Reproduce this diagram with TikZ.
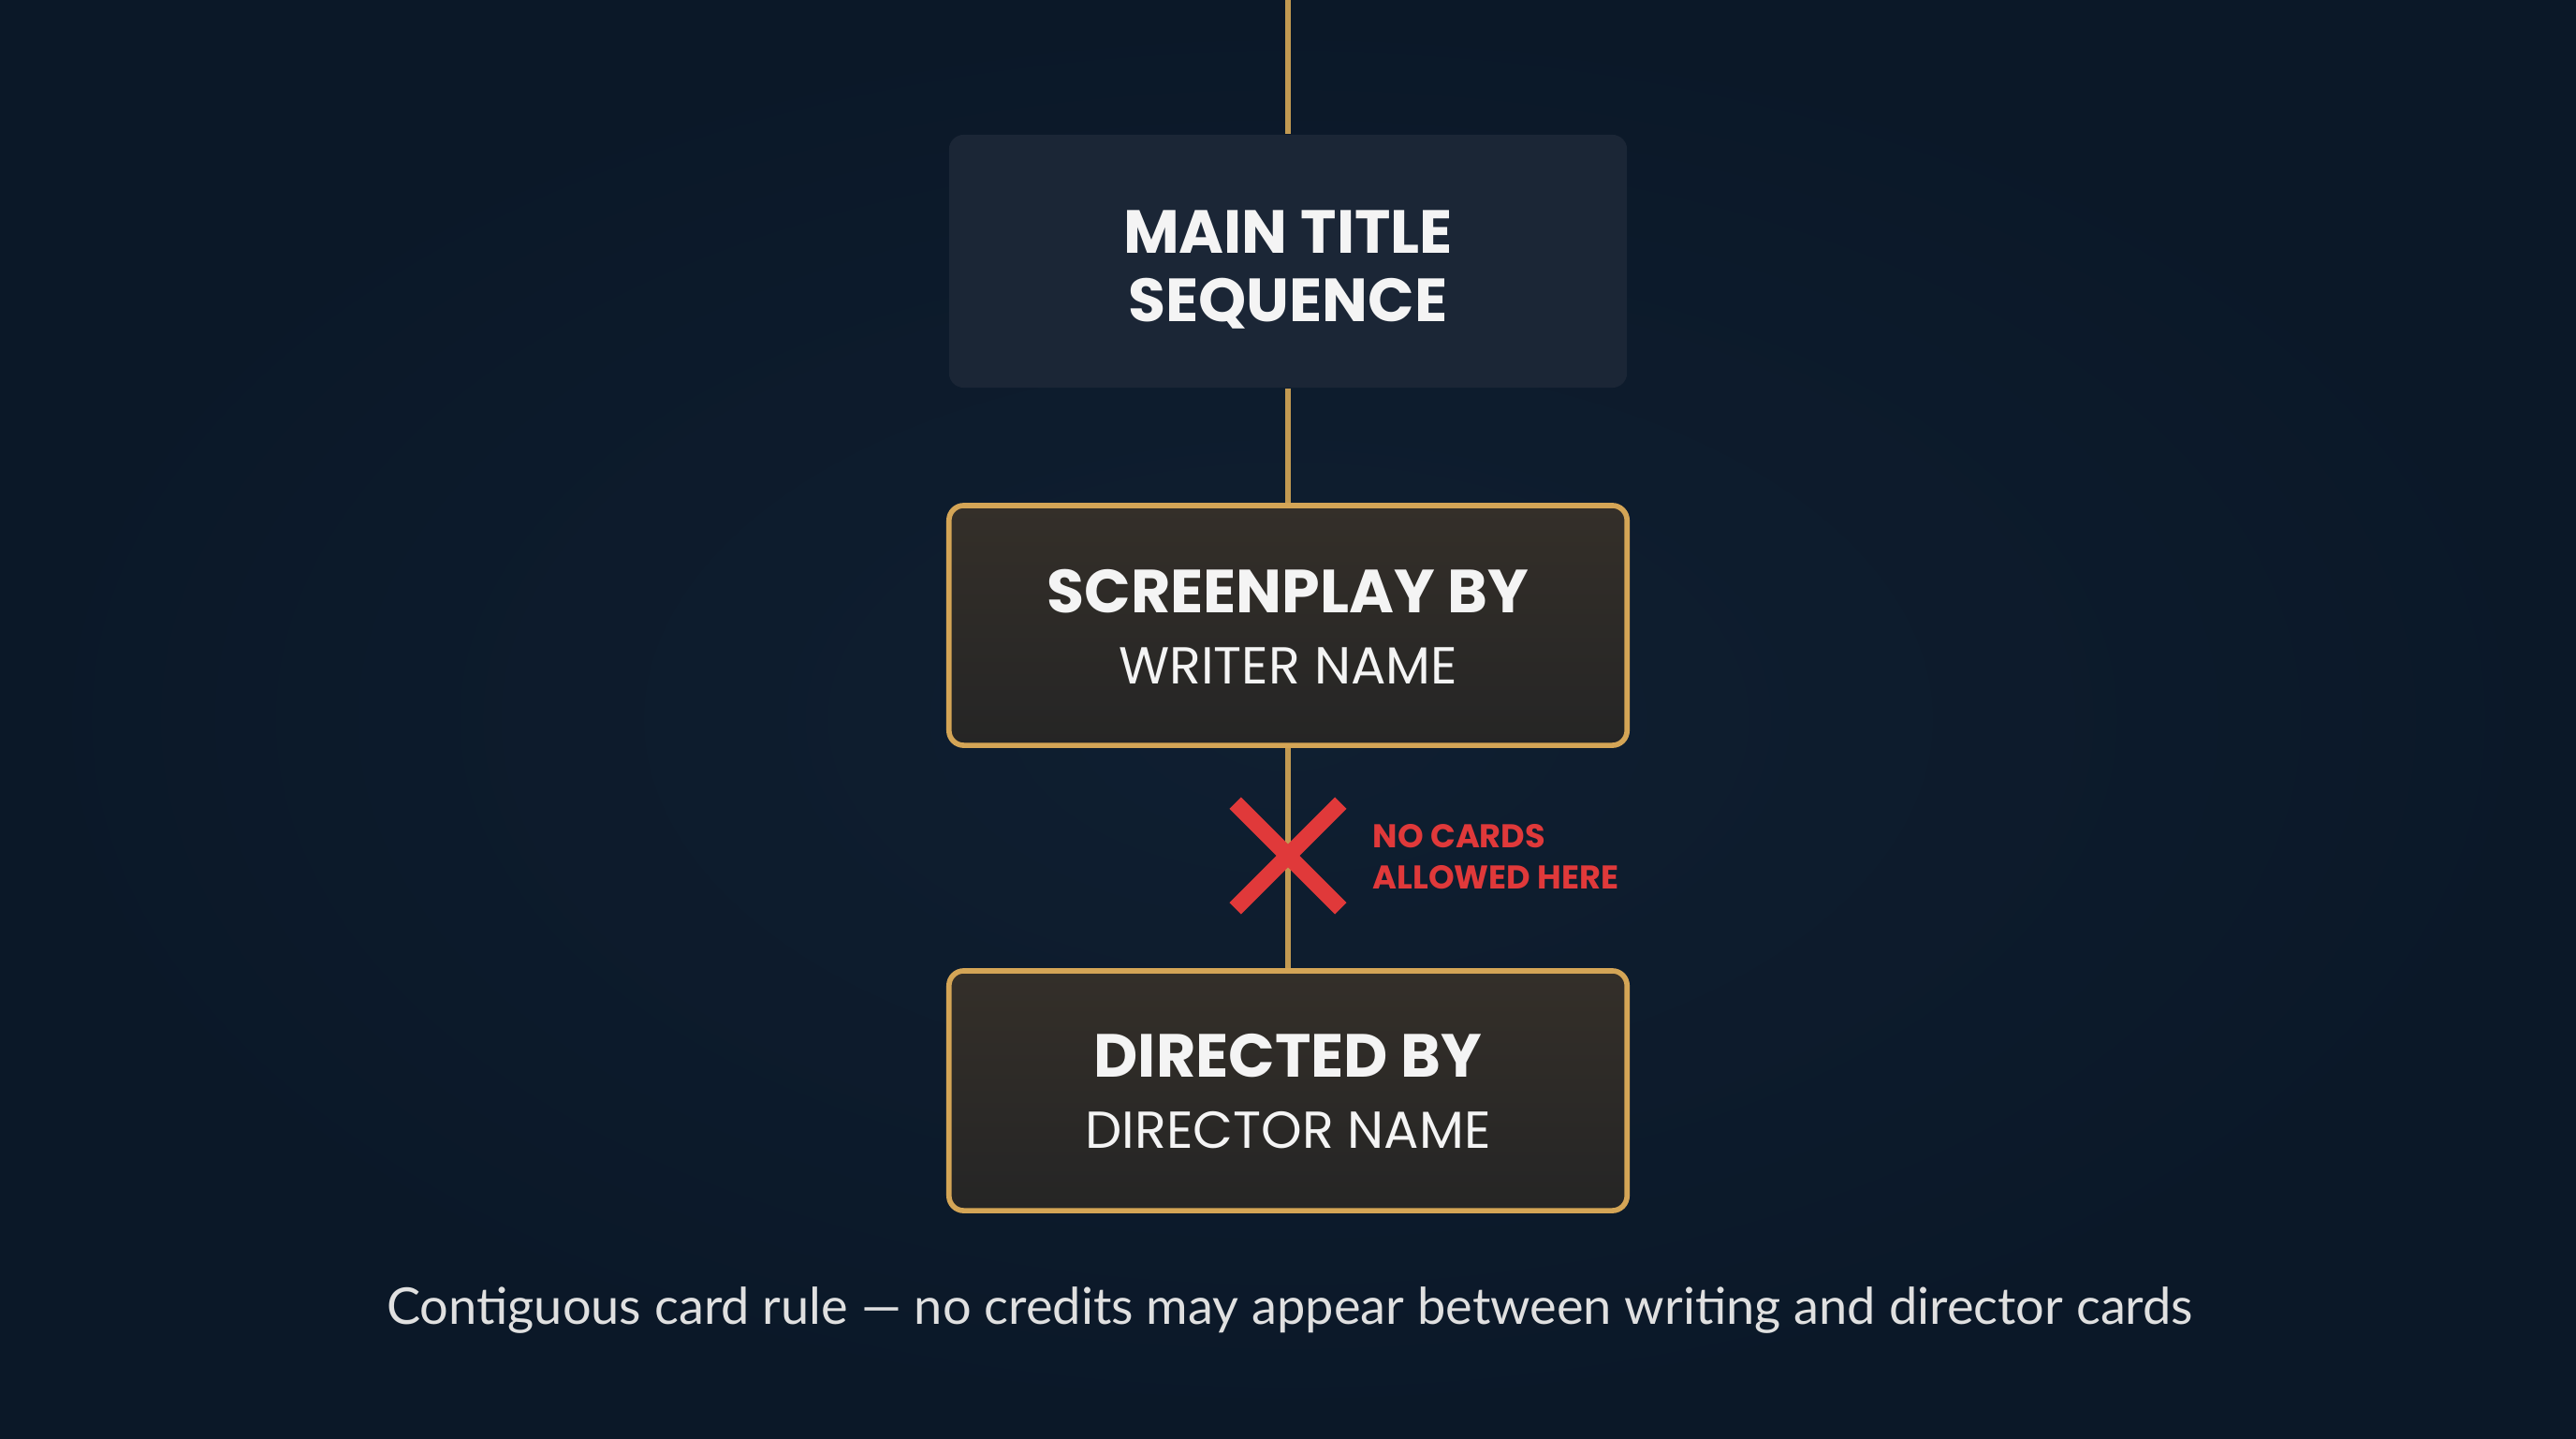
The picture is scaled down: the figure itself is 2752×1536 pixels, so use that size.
\documentclass[tikz,border=0pt]{standalone}
\usepackage{fontspec}
\setmainfont{Lato}
\newfontfamily\headfont{Poppins}
\usetikzlibrary{shapes.misc}
\definecolor{bgc}{HTML}{0B1828}
\definecolor{bgin}{HTML}{0F1F31}
\definecolor{gold}{HTML}{D4A556}
\definecolor{goldline}{HTML}{C29A52}
\definecolor{slate}{HTML}{1B2636}
\definecolor{cardtop}{HTML}{342F29}
\definecolor{cardmid}{HTML}{2A2928}
\definecolor{cardbot}{HTML}{252525}
\definecolor{xred}{HTML}{E0393A}
\definecolor{txt}{HTML}{F4F4F4}
\tikzset{
  cardbox/.style={rectangle, rounded corners=4.5pt, minimum width=7.24cm, minimum height=2.56cm,
    inner sep=0pt, draw=gold, line width=1.6pt, top color=cardtop, middle color=cardmid, bottom color=cardbot},
  titlebox/.style={rectangle, rounded corners=4.5pt, minimum width=7.24cm, minimum height=2.70cm,
    inner sep=0pt, fill=slate},
  conn/.style={draw=goldline, line width=1.5pt},
  headtxt/.style={font=\headfont\bfseries\fontsize{18.5}{22}\selectfont, text=txt, inner sep=0pt},
  nametxt/.style={font=\headfont\fontsize{15.8}{19}\selectfont, text=txt, inner sep=0pt},
  warntxt/.style={font=\headfont\bfseries\fontsize{10}{12.5}\selectfont, text=xred, align=left, inner sep=0pt, anchor=west},
  captxt/.style={font=\fontsize{15.4}{18}\selectfont, text=txt!92!black, inner sep=0pt}
}
\begin{document}
\begin{tikzpicture}[x=0.01cm,y=-0.01cm]
\useasboundingbox (0,0) rectangle (2752,1536);
\shade[inner color=bgin, outer color=bgc] (0,0) rectangle (2752,1536);

% nodes
\coordinate (top) at (1376,0);
\node[titlebox] (main) at (1376,279) {};
\node[cardbox] (sp) at (1376,668) {};
\node[cardbox] (dir) at (1376,1165) {};

% connectors
\draw[conn] (top) -- (main.north);
\draw[conn] (main.south) -- (sp.north);
\draw[conn] (sp.south) -- (dir.north);

% texts
\node[headtxt, align=center] (mainT) at (1376,288) {MAIN TITLE\\[-1pt]SEQUENCE};
\node[headtxt] (spT) at (1376,632) {SCREENPLAY BY};
\node[nametxt] (spN) at (1376,711) {WRITER NAME};
\node[headtxt] (dirT) at (1376,1128) {DIRECTED BY};
\node[nametxt] (dirN) at (1376,1207) {DIRECTOR NAME};

% cross
\node[cross out, draw=xred, line width=5pt, minimum size=0.95cm, inner sep=0pt] (xmark) at (1376,914) {};
\node[warntxt] (warn) at (1466,915) {NO CARDS\\ALLOWED HERE};

% caption
\node[captxt] (cap) at (1378,1399) {Contiguous card rule — no credits may appear between writing and director cards};
\end{tikzpicture}
\end{document}
